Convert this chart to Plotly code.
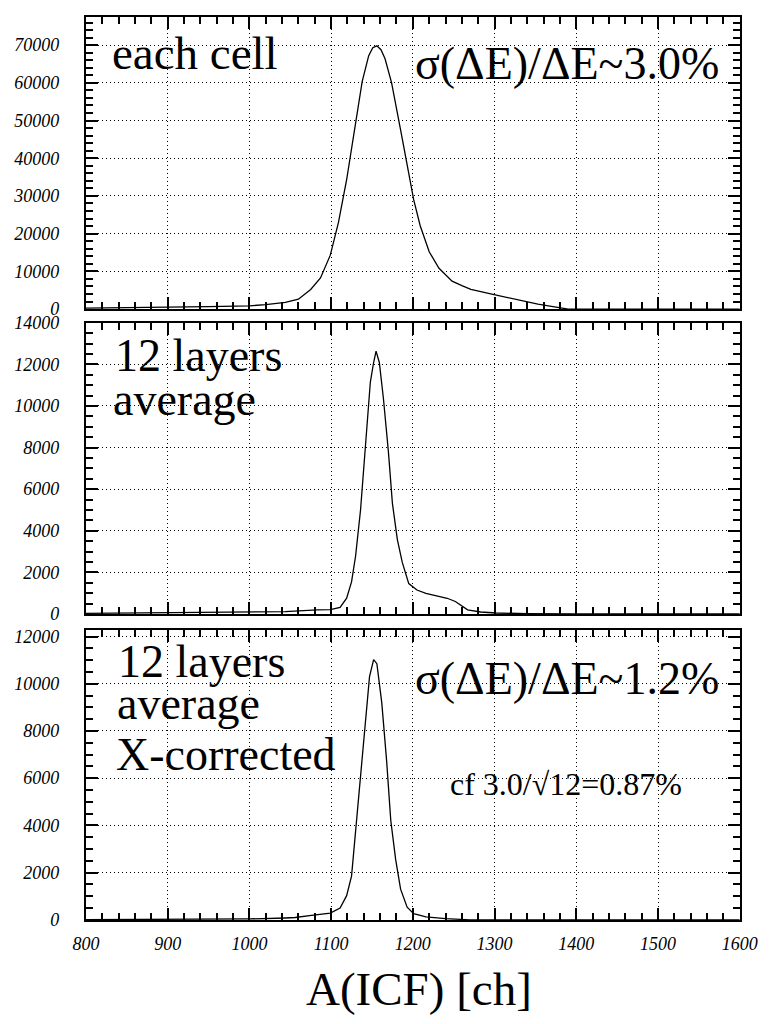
import plotly.graph_objects as go

# ---- spectra: A(ICF) channel vs counts ----
cell_ch = [800, 850, 900, 950, 1000, 1020, 1044, 1060, 1075, 1087, 1099, 1109, 1119,
           1128, 1138, 1146, 1151, 1156, 1161, 1166, 1174, 1185, 1193, 1201, 1209,
           1220, 1232, 1248, 1260, 1271, 1298, 1326, 1353, 1377, 1390, 1450, 1600]
cell_counts = [260, 350, 440, 650, 860, 1150, 1750, 2600, 5200, 8250, 14300, 23000, 34300,
               46400, 60300, 67200, 69300, 69800, 68800, 66400, 60000, 47500, 37700, 29000, 22100,
               15200, 10800, 7400, 6200, 5200, 3900, 2600, 1300, 440, 0, 0, 0]

avg_ch = [800, 850, 900, 950, 1000, 1044, 1083, 1099, 1111, 1119, 1125, 1130, 1136,
          1142, 1148, 1152, 1155, 1159, 1164, 1170, 1175, 1181, 1187, 1195, 1205,
          1216, 1236, 1242, 1252, 1267, 1283, 1302, 1340, 1400, 1600]
avg_counts = [30, 40, 50, 70, 90, 110, 200, 210, 315, 756, 1540, 2800, 5000,
              8310, 11150, 12090, 12640, 12090, 10360, 7840, 5320, 3590, 2490, 1460, 1150,
              990, 835, 755, 600, 200, 94, 47, 15, 0, 0]

xcor_ch = [800, 900, 1000, 1044, 1056, 1076, 1099, 1111, 1119, 1125, 1130, 1136, 1142,
           1147, 1152, 1156, 1162, 1168, 1173, 1179, 1185, 1193, 1201, 1216, 1240, 1270, 1600]
xcor_counts = [10, 20, 40, 80, 100, 194, 290, 500, 1025, 1855, 3790, 6010, 8500,
               10300, 11020, 10850, 9190, 6700, 4210, 2550, 1300, 540, 262, 125, 55, 0, 0]

x_ticks = list(range(800, 1601, 100))
y_ranges = [[0, 77500], [0, 14000], [0, 12290]]
y_dticks = [10000, 2000, 2000]
y_minor = [2000, 500, 500]

W, H = 776, 1024
SERIF = "'Liberation Serif', 'Times New Roman', Times, 'DejaVu Serif', serif"


def px(x):
    return x / W


def py(y):
    return 1 - y / H


fig = go.Figure()
panels = [(cell_ch, cell_counts), (avg_ch, avg_counts), (xcor_ch, xcor_counts)]
for i, (xs, ys) in enumerate(panels, start=1):
    fig.add_trace(go.Scatter(
        x=xs, y=ys, mode="lines", line=dict(color="black", width=1.3),
        xaxis=f"x{i}" if i > 1 else "x", yaxis=f"y{i}" if i > 1 else "y",
        showlegend=False, hoverinfo="skip"))

x_dom = [75 / W, 757 / W]
y_doms = [[py(305), py(7)], [py(616), py(319)], [py(928), py(632)]]

tickfont = dict(family=SERIF, size=18, style="italic", color="black")
frame = dict(showline=True, linecolor="black", linewidth=2, mirror="allticks",
             ticks="inside", tickcolor="black", tickwidth=1.5, zeroline=False,
             showgrid=True, gridcolor="black", griddash="1px,3px", gridwidth=1)
minor_style = dict(ticks="inside", tickcolor="black", tickwidth=1.5, showgrid=False)

layout = dict(width=W, height=H, margin=dict(l=0, r=0, t=0, b=0),
              paper_bgcolor="white", plot_bgcolor="white", showlegend=False)

for i in range(3):
    sfx = "" if i == 0 else str(i + 1)
    layout[f"xaxis{sfx}"] = dict(
        frame, domain=x_dom, range=[800, 1600], anchor=f"y{sfx}",
        tickvals=x_ticks, ticktext=[str(v) for v in x_ticks], ticklen=12,
        minor=dict(minor_style, dtick=20, tick0=800, ticklen=7),
        showticklabels=(i == 2), tickfont=tickfont, ticklabelstandoff=7)
    layout[f"yaxis{sfx}"] = dict(
        frame, domain=y_doms[i], range=y_ranges[i], anchor=f"x{sfx}",
        dtick=y_dticks[i], tick0=0, tickformat="d", ticklen=12,
        minor=dict(minor_style, dtick=y_minor[i], tick0=0, ticklen=7),
        tickfont=tickfont, ticklabelstandoff=21)

fig.update_layout(**layout)


def label(text, x, y, size, xanchor="left"):
    fig.add_annotation(text=text, xref="paper", yref="paper", x=px(x), y=py(y),
                       xanchor=xanchor, yanchor="middle", showarrow=False,
                       font=dict(family=SERIF, size=size, color="black"))


label("each cell", 100, 44, 47)
label("σ(ΔE)/ΔE~3.0%", 737, 55, 46, xanchor="right")
label("12 layers", 103, 352, 46)
label("average", 101, 397, 46)
label("12 layers", 106, 664, 46)
label("average", 105, 707, 46)
label("X-corrected", 104, 759, 46)
label("σ(ΔE)/ΔE~1.2%", 737, 682, 46, xanchor="right")
label("cf 3.0/√12=0.87%", 453, 789, 32)
label("A(ICF) [ch]", 422, 999, 47, xanchor="center")

fig.write_html("out.html")
